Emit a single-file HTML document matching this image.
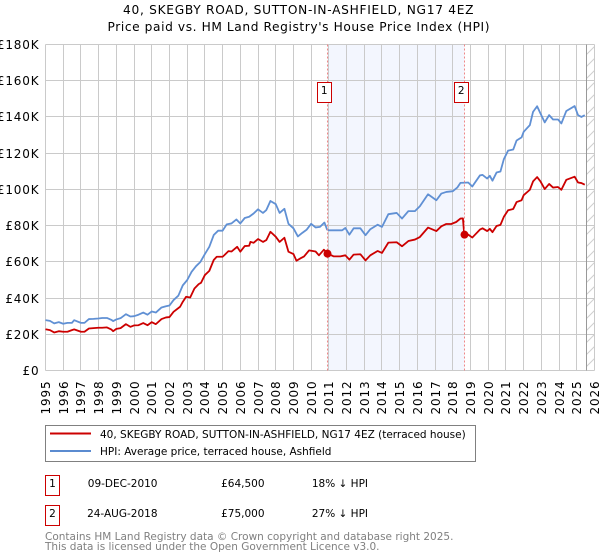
<!DOCTYPE html>
<html>
<head>
<meta charset="utf-8">
<style>
html,body{margin:0;padding:0;background:#fff;width:600px;height:560px;overflow:hidden}
svg{display:block}
text{font-family:"DejaVu Sans",sans-serif}
</style>
</head>
<body>
<svg id="chart" width="600" height="560" viewBox="0 0 600 560" xmlns="http://www.w3.org/2000/svg">
<defs>
<pattern id="hatch" patternUnits="userSpaceOnUse" x="586" y="44" width="9" height="12">
<line x1="0" y1="11" x2="9" y2="2" stroke="#cfcfcf" stroke-width="1"/>
</pattern>
</defs>
<text x="123" y="14" font-size="12.2" textLength="350.5" lengthAdjust="spacing" fill="#000">40, SKEGBY ROAD, SUTTON-IN-ASHFIELD, NG17 4EZ</text>
<text x="107.5" y="31" font-size="12.2" textLength="382" lengthAdjust="spacing" fill="#000">Price paid vs. HM Land Registry's House Price Index (HPI)</text>
<g id="band-layer"></g>
<g id="grid-layer"></g>
<g id="series-layer"></g>
<g id="label-layer"></g>

<g>
<rect x="45.5" y="425.5" width="430" height="36" fill="#fff" stroke="#808080" stroke-width="1"/>
<line x1="50" y1="433.5" x2="91" y2="433.5" stroke="#cc0000" stroke-width="2"/>
<text x="100" y="438" font-size="10.5">40, SKEGBY ROAD, SUTTON-IN-ASHFIELD, NG17 4EZ (terraced house)</text>
<line x1="50" y1="451" x2="91" y2="451" stroke="#5b8bd0" stroke-width="2"/>
<text x="100" y="455" font-size="10.5">HPI: Average price, terraced house, Ashfield</text>
</g>

<g font-size="10.5">
<rect x="45.5" y="475.5" width="14" height="20" fill="#fff" stroke="#cc0000" stroke-width="1"/>
<text x="52.5" y="487" text-anchor="middle">1</text>
<text x="157.5" y="487" text-anchor="end">09-DEC-2010</text>
<text x="264.5" y="487" text-anchor="end">£64,500</text>
<text x="368" y="487" text-anchor="end">18% ↓ HPI</text>
<rect x="45.5" y="505.5" width="14" height="20" fill="#fff" stroke="#cc0000" stroke-width="1"/>
<text x="52.5" y="517" text-anchor="middle">2</text>
<text x="157.5" y="517" text-anchor="end">24-AUG-2018</text>
<text x="264.5" y="517" text-anchor="end">£75,000</text>
<text x="368" y="517" text-anchor="end">27% ↓ HPI</text>
</g>
<text x="45" y="540" font-size="10.5" fill="#808080">Contains HM Land Registry data © Crown copyright and database right 2025.</text>
<text x="45" y="550" font-size="10.5" fill="#808080">This data is licensed under the Open Government Licence v3.0.</text>
</svg>
<script>
const yTicks = [0, 20, 40, 60, 80, 100, 120, 140, 160, 180];
const xTickYears = [1995,1996,1997,1998,1999,2000,2001,2002,2003,2004,2005,2006,2007,2008,2009,2010,2011,2012,2013,2014,2015,2016,2017,2018,2019,2020,2021,2022,2023,2024,2025,2026];
const saleDates = [2010.94, 2018.645];
const saleValues = [64.5, 75];
const saleNumbers = ['1', '2'];
const dataEndDate = 2025.52;

const hpiDates = [1995,1995.25,1995.49,1995.75,1996,1996.24,1996.49,1996.62,1997,1997.2,1997.45,1997.71,1997.98,1998.2,1998.47,1998.71,1998.82,1999,1999.24,1999.54,1999.8,2000,2000.25,2000.52,2000.76,2001,2001.23,2001.55,2001.8,2002,2002.23,2002.5,2002.75,2003,2003.25,2003.5,2003.75,2004,2004.25,2004.5,2004.75,2005,2005.23,2005.5,2005.78,2006,2006.25,2006.5,2006.75,2007,2007.28,2007.47,2007.7,2008,2008.22,2008.49,2008.72,2009,2009.25,2009.5,2009.75,2010,2010.25,2010.5,2010.75,2010.9,2011,2011.37,2011.75,2011.93,2012.16,2012.4,2012.78,2013.07,2013.34,2013.75,2014,2014.36,2014.83,2015.13,2015.49,2015.86,2016.14,2016.6,2017.07,2017.35,2017.63,2018,2018.25,2018.43,2018.87,2019.1,2019.53,2019.68,2019.94,2020.09,2020.24,2020.47,2020.69,2020.88,2021.12,2021.41,2021.6,2021.88,2022,2022.35,2022.53,2022.76,2022.95,2023.19,2023.44,2023.66,2023.94,2024.13,2024.41,2024.88,2025.07,2025.26,2025.45];
const hpiValues = [27.8,27.4,26,26.7,25.8,26.3,26.3,27.8,26.3,26.3,28.4,28.5,28.7,29,29,28,27.3,28.2,28.9,31.1,29.8,30,30.8,32,30.8,32.6,32,34.8,35.5,35.9,38.9,41.3,47,49.9,54.5,57.6,60,64.3,68.3,74.8,77.2,77.2,80.7,81.2,83.4,81.2,84.2,84.9,86.7,89,87,88.6,93.6,91.9,87,89.3,81,78.5,74,76,77.8,81,79,79.3,81.7,77.8,77.4,77.4,77.4,78.7,75,78.5,78.5,74.7,78,80.5,79.3,86.3,87,83.9,88,88,90.7,97.3,94,97.7,98.6,99,101,103.6,103.8,101.6,107.7,108,106,107.5,104.8,109.3,109.9,116.6,121.4,122,127,128.7,131.8,135.5,142.8,145.9,141.9,137,141,138.6,138.6,136.4,143.3,146,141,140,141];

const priceDates = [1995,1995.25,1995.49,1995.75,1996,1996.24,1996.49,1996.62,1997,1997.2,1997.45,1997.71,1997.98,1998.2,1998.47,1998.71,1998.82,1999,1999.24,1999.54,1999.8,2000,2000.25,2000.52,2000.76,2001,2001.23,2001.55,2001.8,2002,2002.23,2002.6,2002.75,2002.94,2003.17,2003.41,2003.65,2003.78,2004,2004.25,2004.5,2004.67,2005,2005.1,2005.33,2005.5,2005.82,2006,2006.25,2006.5,2006.57,2006.75,2007,2007.28,2007.47,2007.7,2008,2008.22,2008.49,2008.72,2009,2009.17,2009.41,2009.6,2009.88,2010.25,2010.44,2010.72,2010.94,2011.28,2011.65,2011.93,2012.16,2012.4,2012.78,2013.07,2013.34,2013.75,2014,2014.36,2014.83,2015.13,2015.49,2015.86,2016.14,2016.6,2017.07,2017.35,2017.63,2017.91,2018.19,2018.43,2018.57,2018.645,2018.87,2019.1,2019.53,2019.68,2019.94,2020.09,2020.24,2020.47,2020.69,2020.88,2021.12,2021.41,2021.6,2021.88,2022,2022.35,2022.53,2022.76,2022.95,2023.19,2023.44,2023.66,2023.94,2024.13,2024.41,2024.88,2025.07,2025.26,2025.45];
const priceValues = [22.8,22.3,21,21.7,21.4,21.4,22.3,22.7,21.4,21.4,23.2,23.4,23.6,23.6,23.8,22.7,21.7,23,23.4,25.6,24.1,24.9,25,26.2,25,26.7,25.6,28.4,29.3,29.5,32.4,35.2,37.9,40.7,40.3,45.3,47.7,48.4,52.7,55,61,62.8,62.8,63.7,65.9,65.7,68.3,65.6,68.7,68.9,71,70.5,72.6,71,72,76.6,73.9,71,73.3,65.6,64.3,60.6,62,63,66.3,65.7,63.6,66.7,64.5,63,63,63.6,61.2,64,64.2,60.8,63.6,66,64.9,70.6,70.8,68.6,71.5,72.3,73.7,78.9,77,79.6,80.9,80.9,82,83.9,84,75,75,73.4,77.8,78.5,77,78.2,76.4,79.8,80.4,84.8,88.5,89.2,93,94,96.8,99.8,104.4,106.8,104.4,100.2,103,101,101.3,99.8,105.3,107,103.8,103.5,102.6];

const NS = 'http://www.w3.org/2000/svg';
const plotLeft = 45.5, plotRight = 594.5, plotTop = 44.5, plotBottom = 370.5;
const DAY = 86400000;
const startMs = Date.UTC(1995, 0, 1), endMs = Date.UTC(2026, 0, 1);

function xScale(year) {
  const whole = Math.floor(year);
  const ms = Date.UTC(whole, 0, 1) + (year - whole) * 365.25 * DAY;
  return plotLeft + (ms - startMs) / (endMs - startMs) * (plotRight - plotLeft);
}
function yScale(value) {
  return plotBottom - value / 180 * (plotBottom - plotTop);
}
function snap(v) {
  return Math.floor(v) + 0.5;
}
function make(parent, tag, attrs, text) {
  const el = document.createElementNS(NS, tag);
  for (const k in attrs) el.setAttribute(k, attrs[k]);
  if (text !== undefined) el.textContent = text;
  parent.appendChild(el);
  return el;
}
function pathFrom(dates, values) {
  return dates.map((d, i) => (i ? 'L' : 'M') + xScale(d).toFixed(2) + ' ' + yScale(values[i]).toFixed(2)).join(' ');
}

const bandLayer = document.getElementById('band-layer');
const gridLayer = document.getElementById('grid-layer');
const seriesLayer = document.getElementById('series-layer');
const labelLayer = document.getElementById('label-layer');

const bandLeft = snap(xScale(saleDates[0]));
const bandRight = snap(xScale(saleDates[1]));
const band = make(bandLayer, 'rect', {x: bandLeft, y: plotTop, width: bandRight - bandLeft, height: plotBottom - plotTop, fill: '#f3f6fe'});



const hatchArea = make(bandLayer, 'rect', {x: xScale(dataEndDate), y: plotTop, width: plotRight - xScale(dataEndDate), height: plotBottom - plotTop, fill: 'url(#hatch)'});



yTicks.forEach(v => {
  const y = snap(yScale(v));
  const line = make(gridLayer, 'line', {x1: plotLeft, x2: plotRight, y1: y, y2: y, stroke: '#cacaca', 'stroke-width': 1});
  
  
  const label = make(labelLayer, 'text', {x: 39.5, y: y + 4.3, 'text-anchor': 'end', 'font-size': 12, 'letter-spacing': 0.85, fill: '#000'}, v === 0 ? '£0' : '£' + v + 'K');
  
  
});

xTickYears.forEach(yr => {
  const x = snap(xScale(yr));
  const line = make(gridLayer, 'line', {x1: x, x2: x, y1: plotTop, y2: plotBottom, stroke: '#cacaca', 'stroke-width': 1});
  
  
  const label = make(labelLayer, 'text', {transform: 'translate(' + (x + 4.5) + ',380.5) rotate(-90)', 'text-anchor': 'end', 'font-size': 12, 'letter-spacing': 0.85, fill: '#000'}, String(yr));
  
  
});

const nowLine = make(gridLayer, 'line', {x1: snap(xScale(dataEndDate)), x2: snap(xScale(dataEndDate)), y1: plotTop, y2: plotBottom, stroke: '#999999', 'stroke-width': 1});



const hpiLine = make(seriesLayer, 'path', {d: pathFrom(hpiDates, hpiValues), fill: 'none', stroke: '#6090d4', 'stroke-width': 1.8, 'stroke-linejoin': 'round'});



const priceLine = make(seriesLayer, 'path', {d: pathFrom(priceDates, priceValues), fill: 'none', stroke: '#cc0000', 'stroke-width': 1.8, 'stroke-linejoin': 'round'});



saleDates.forEach((d, i) => {
  const x = snap(xScale(d));
  const dash = make(seriesLayer, 'line', {x1: x, x2: x, y1: plotTop, y2: plotBottom, stroke: '#ee8888', 'stroke-width': 1, 'stroke-dasharray': '2 2'});
  
  

  const dot = make(seriesLayer, 'circle', {cx: x, cy: yScale(saleValues[i]), r: 4, fill: '#cc0000'});
  
  

  const box = make(seriesLayer, 'rect', {x: x - 10, y: 82.5, width: 14, height: 20, fill: '#fff', stroke: '#cc0000', 'stroke-width': 1});
  
  

  const num = make(seriesLayer, 'text', {x: x - 3.3, y: 94, 'text-anchor': 'middle', 'font-size': 10.5, fill: '#000'}, saleNumbers[i]);
  
  
});
</script>
</body>
</html>
